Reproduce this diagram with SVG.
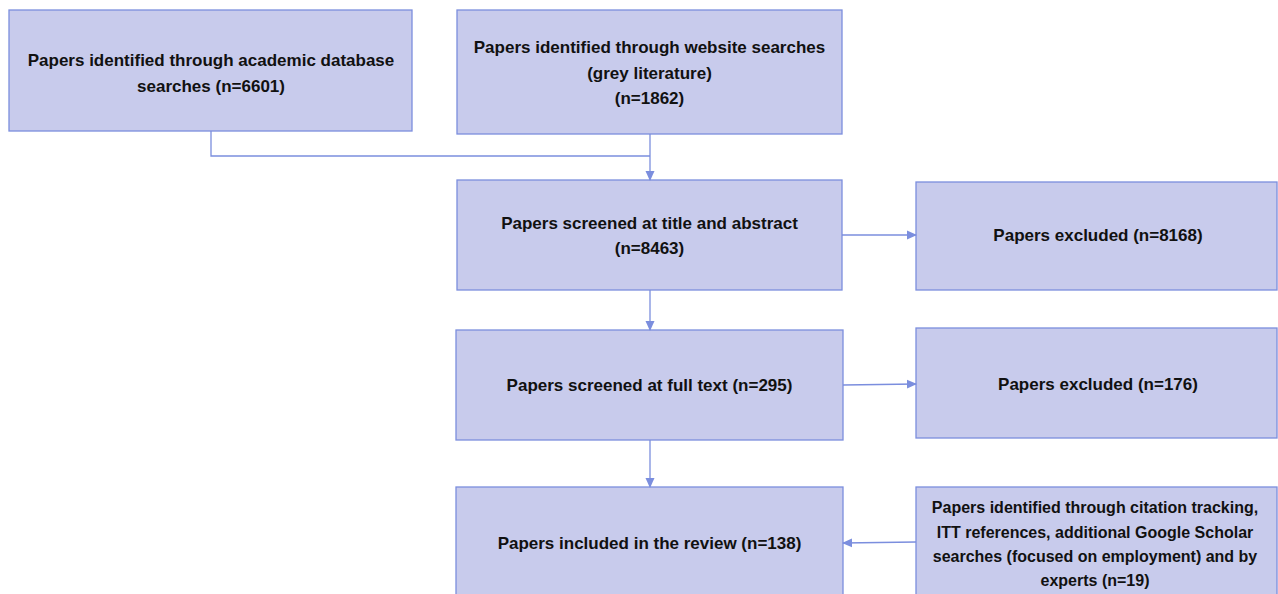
<svg xmlns="http://www.w3.org/2000/svg" width="1278" height="594" viewBox="0 0 1278 594">
<defs>
<style>
.box{fill:#c8cbec;stroke:#7b8ede;stroke-width:1.3}
.t{font-family:"Liberation Sans",Arial,sans-serif;font-weight:bold;font-size:17px;fill:#111;text-anchor:middle;dominant-baseline:central}
.s{font-size:16px}
.c{fill:none;stroke:#7b8ede;stroke-width:1.3}
</style>
<marker id="ah" markerWidth="10" markerHeight="10" refX="9" refY="5" orient="auto" markerUnits="userSpaceOnUse">
<path d="M0,0.5 L10,5 L0,9.5 z" fill="#7b8ede"/>
</marker>
</defs>
<rect width="1278" height="594" fill="#fff"/>
<g id="n1"><rect class="box" x="9" y="10" width="403" height="121"/>
<text class="t" x="211" y="60">Papers identified through academic database</text>
<text class="t" x="211" y="86">searches (n=6601)</text></g>
<g id="n2"><rect class="box" x="457" y="10" width="385" height="124"/>
<text class="t" x="649.5" y="47">Papers identified through website searches</text>
<text class="t" x="649.5" y="73">(grey literature)</text>
<text class="t" x="649.5" y="98">(n=1862)</text></g>
<g id="n3"><rect class="box" x="457" y="180" width="385" height="110"/>
<text class="t" x="649.5" y="223">Papers screened at title and abstract</text>
<text class="t" x="649.5" y="248">(n=8463)</text></g>
<g id="n4"><rect class="box" x="916" y="182" width="361" height="108"/>
<text class="t" x="1098" y="235">Papers excluded (n=8168)</text></g>
<g id="n5"><rect class="box" x="456" y="330" width="387" height="110"/>
<text class="t" x="649.5" y="385">Papers screened at full text (n=295)</text></g>
<g id="n6"><rect class="box" x="916" y="328" width="361" height="110"/>
<text class="t" x="1098" y="384">Papers excluded (n=176)</text></g>
<g id="n7"><rect class="box" x="456" y="487" width="387" height="120"/>
<text class="t" x="649.5" y="543">Papers included in the review (n=138)</text></g>
<g id="n8"><rect class="box" x="916" y="487" width="361" height="120"/>
<text class="t s" x="1095" y="507">Papers identified through citation tracking,</text>
<text class="t s" x="1095" y="532">ITT references, additional Google Scholar</text>
<text class="t s" x="1095" y="556">searches (focused on employment) and by</text>
<text class="t s" x="1095" y="580">experts (n=19)</text></g>
<g id="connectors">
<path class="c" d="M211,131 V156 H650"/>
<path class="c" d="M650,134 V180" marker-end="url(#ah)"/>
<path class="c" d="M842,235 L916,235" marker-end="url(#ah)"/>
<path class="c" d="M650,290 V330" marker-end="url(#ah)"/>
<path class="c" d="M843,385 L916,384" marker-end="url(#ah)"/>
<path class="c" d="M650,440 V487" marker-end="url(#ah)"/>
<path class="c" d="M916,542 L843,543" marker-end="url(#ah)"/>
</g>
</svg>
